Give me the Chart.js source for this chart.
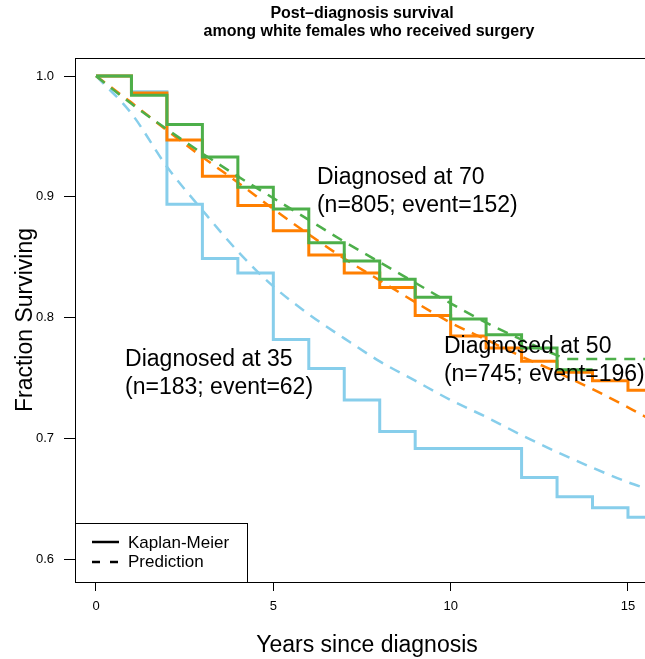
<!DOCTYPE html>
<html><head><meta charset="utf-8">
<script src="https://cdn.jsdelivr.net/npm/chart.js@4.4.1/dist/chart.umd.min.js"></script>
<style>html,body{margin:0;padding:0;background:#fff;overflow:hidden}canvas{display:block}</style>
</head><body><canvas id="c" width="645" height="659"></canvas>
<script>
// ---- data ----
const kmYears35 = [0, 1, 2, 3, 4, 5, 6, 7, 8, 9, 12, 13, 14, 15, 15.5];
const kmSurv35  = [1.0, 0.987, 0.894, 0.849, 0.837, 0.782, 0.758, 0.732, 0.706, 0.692, 0.668, 0.652, 0.643, 0.635, 0.635];
const kmYears50 = [0, 1, 2, 3, 4, 5, 6, 7, 8, 9, 10, 11, 12, 13, 14, 15, 15.5];
const kmSurv50  = [1.0, 0.986, 0.947, 0.917, 0.893, 0.872, 0.852, 0.837, 0.825, 0.802, 0.785, 0.775, 0.764, 0.755, 0.748, 0.740, 0.740];
const kmYears70 = [0, 1, 2, 3, 4, 5, 6, 7, 8, 9, 10, 11, 12, 13, 14];
const kmSurv70  = [1.0, 0.984, 0.960, 0.933, 0.908, 0.890, 0.862, 0.847, 0.832, 0.817, 0.799, 0.786, 0.775, 0.757, 0.757];

const predYears   = [0, 1, 2, 3, 4, 5, 6, 7, 8, 9, 10, 11, 12, 13, 14, 15, 15.5];
const predSurv35  = [1.0, 0.969, 0.925, 0.889, 0.855, 0.826, 0.803, 0.783, 0.764, 0.748, 0.732, 0.718, 0.703, 0.689, 0.676, 0.664, 0.659];
const predSurv50  = [1.0, 0.978, 0.955, 0.933, 0.912, 0.890, 0.869, 0.849, 0.831, 0.813, 0.796, 0.782, 0.768, 0.755, 0.741, 0.726, 0.718];
const predYears70 = [0, 1, 2, 3, 4, 5, 6, 7, 8, 9, 10, 11, 12, 13, 13.3, 15.5];
const predSurv70  = [1.0, 0.977, 0.956, 0.936, 0.917, 0.899, 0.881, 0.863, 0.846, 0.829, 0.812, 0.796, 0.782, 0.769, 0.766, 0.766];

const xTickValues = [0, 5, 10, 15];
const xTickLabels = ['0', '5', '10', '15'];
const yTickValues = [0.6, 0.7, 0.8, 0.9, 1.0];
const yTickLabels = ['0.6', '0.7', '0.8', '0.9', '1.0'];

const titleLines = ['Post\u2013diagnosis survival', 'among white females who received surgery'];
const xAxisTitle = 'Years since diagnosis';
const yAxisTitle = 'Fraction Surviving';
const groupLabels = [
  ['Diagnosed at 70', '(n=805; event=152)'],
  ['Diagnosed at 50', '(n=745; event=196)'],
  ['Diagnosed at 35', '(n=183; event=62)']
];
const legendLabels = ['Kaplan-Meier', 'Prediction'];

// ---- styling / layout ----
const FONT = '"Liberation Sans", Arial, Helvetica, sans-serif';
const C35 = '#87CEEB', C50 = '#FF7F00', C70 = '#4DAF4A';
const labelAnchors = [ {x: 6.23, y: 0.9104}, {x: 9.81, y: 0.7706}, {x: 0.82, y: 0.760} ];

const pts = (xs, ys) => xs.map((v, i) => ({x: v, y: ys[i]}));

const kmStyle = c => ({borderColor: c, borderWidth: 3, pointRadius: 0, stepped: 'before', fill: false});
const prStyle = c => ({borderColor: c, borderWidth: 2.5, pointRadius: 0, borderDash: [11, 8], cubicInterpolationMode: 'monotone', fill: false});

const overlay = {
  id: 'overlay',
  afterDraw(chart) {
    const {ctx, chartArea: a, scales: {x, y}} = chart;
    ctx.save();
    ctx.strokeStyle = '#000'; ctx.lineWidth = 1;
    ctx.strokeRect(a.left + 0.5, a.top + 0.5, a.right - a.left + 30, a.bottom - a.top);
    ctx.fillStyle = '#000';
    // title
    ctx.textAlign = 'center'; ctx.textBaseline = 'alphabetic';
    ctx.font = 'bold 16px ' + FONT;
    ctx.fillText(titleLines[0], 362, 18);
    ctx.fillText(titleLines[1], 369, 36);
    // axis titles
    ctx.font = '23px ' + FONT;
    ctx.fillText(xAxisTitle, 367, 652);
    ctx.save();
    ctx.translate(32, (a.top + a.bottom) / 2);
    ctx.rotate(-Math.PI / 2);
    ctx.fillText(yAxisTitle, 0, 0);
    ctx.restore();
    // group labels
    ctx.textAlign = 'left';
    groupLabels.forEach((lines, i) => {
      const px = x.getPixelForValue(labelAnchors[i].x);
      const py = y.getPixelForValue(labelAnchors[i].y);
      ctx.fillText(lines[0], px, py);
      ctx.fillText(lines[1], px, py + 27.5);
    });
    // legend
    const lx = a.left, ly = 523, lw = 172, lh = a.bottom - 523;
    ctx.fillStyle = '#fff';
    ctx.fillRect(lx + 0.5, ly + 0.5, lw, lh);
    ctx.strokeStyle = '#000';
    ctx.strokeRect(lx + 0.5, ly + 0.5, lw, lh);
    ctx.lineWidth = 2.5;
    ctx.beginPath(); ctx.moveTo(92, 542); ctx.lineTo(119, 542); ctx.stroke();
    ctx.setLineDash([8, 10]);
    ctx.beginPath(); ctx.moveTo(92, 562); ctx.lineTo(119, 562); ctx.stroke();
    ctx.setLineDash([]);
    ctx.fillStyle = '#000';
    ctx.font = '17px ' + FONT;
    ctx.fillText(legendLabels[0], 128, 548);
    ctx.fillText(legendLabels[1], 128, 567);
    ctx.restore();
  }
};

new Chart(document.getElementById('c'), {
  type: 'line',
  data: {
    datasets: [
      Object.assign({label: 'KM 70', data: pts(kmYears70, kmSurv70), order: 1}, kmStyle(C70)),
      Object.assign({label: 'Pred 70', data: pts(predYears70, predSurv70), order: 0}, prStyle(C70)),
      Object.assign({label: 'KM 50', data: pts(kmYears50, kmSurv50), order: 3}, kmStyle(C50)),
      Object.assign({label: 'Pred 50', data: pts(predYears, predSurv50), order: 2}, prStyle(C50)),
      Object.assign({label: 'KM 35', data: pts(kmYears35, kmSurv35), order: 5}, kmStyle(C35)),
      Object.assign({label: 'Pred 35', data: pts(predYears, predSurv35), order: 4}, prStyle(C35))
    ]
  },
  options: {
    responsive: false,
    animation: false,
    devicePixelRatio: 1,
    layout: {padding: {top: 58, left: 0, right: 0, bottom: 0}},
    plugins: {legend: {display: false}, tooltip: {enabled: false}, title: {display: false}},
    scales: {
      x: {
        type: 'linear', min: -0.592, max: 15.48,
        afterFit: s => { s.height = 77; },
        afterBuildTicks: s => { s.ticks = xTickValues.map(v => ({value: v})); },
        ticks: {callback: (v) => xTickLabels[xTickValues.indexOf(v)], color: '#000', font: {family: FONT, size: 13}, padding: 8, maxRotation: 0, autoSkip: false},
        grid: {drawOnChartArea: false, drawTicks: true, tickLength: 9, color: '#000'},
        border: {display: false}
      },
      y: {
        type: 'linear', min: 0.5815, max: 1.0149,
        afterFit: s => { s.width = 75; },
        afterBuildTicks: s => { s.ticks = yTickValues.map(v => ({value: v})); },
        ticks: {callback: (v) => yTickLabels[yTickValues.findIndex(t => Math.abs(t - v) < 1e-9)], color: '#000', font: {family: FONT, size: 13}, padding: 10, autoSkip: false},
        grid: {drawOnChartArea: false, drawTicks: true, tickLength: 11, color: '#000'},
        border: {display: false}
      }
    }
  },
  plugins: [overlay]
});
</script>
</body></html>
